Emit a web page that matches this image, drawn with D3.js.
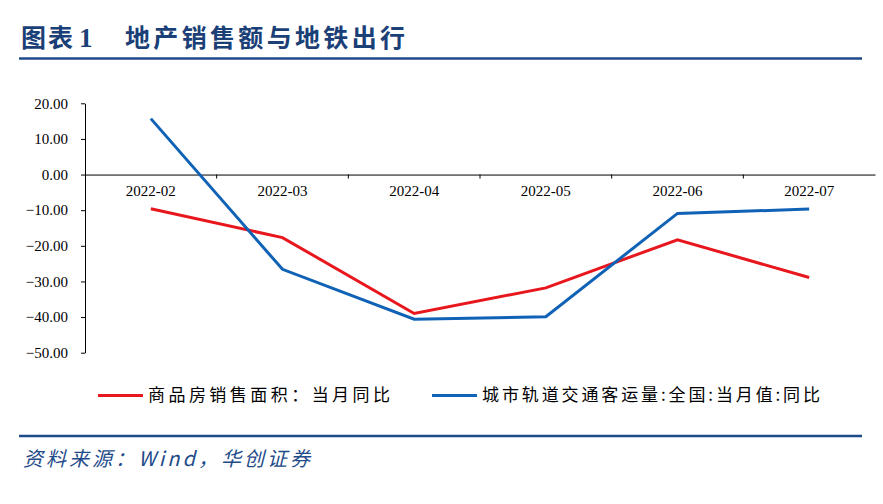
<!DOCTYPE html>
<html><head><meta charset="utf-8">
<script src="https://cdn.jsdelivr.net/npm/d3@7"></script>
<style>body{margin:0;background:#fff;}svg{display:block;}</style>
</head><body>
<svg id="c" width="883" height="504"></svg>
<script>
const categories = ["2022-02","2022-03","2022-04","2022-05","2022-06","2022-07"];
const salesArea = [-9.6, -17.7, -39.0, -31.8, -18.3, -28.9];
const metroRidership = [15.7, -26.6, -40.6, -39.9, -10.9, -9.7];
const yTicks = [20, 10, 0, -10, -20, -30, -40, -50];
const seriesNames = ["商品房销售面积：当月同比", "城市轨道交通客运量:全国:当月值:同比"];
const seriesColors = ["#E8161D", "#0F62B5"];
const titleLabel = ["图表", "1"];
const titleText = "地产销售额与地铁出行";
const sourceText = "资料来源：Wind，华创证券";

const svg = d3.select("#c");
const navy = "#1B3F77";
const serif = "'Liberation Serif','Times New Roman',serif";
const cjk = "'Noto Sans CJK SC',sans-serif";

// Title
const t1 = svg.append("text").attr("x", 21).attr("y", 47)
  .attr("font-family", cjk).attr("font-weight", "bold").attr("font-size", 25)
  .attr("fill", navy);
t1.append("tspan").attr("letter-spacing", 2).text(titleLabel[0]);
t1.append("tspan").attr("font-family", serif).attr("font-size", 27).attr("dx", 4).text(titleLabel[1]);
svg.append("text").attr("x", 125).attr("y", 47)
  .attr("font-family", cjk).attr("font-weight", "bold").attr("font-size", 25)
  .attr("fill", navy).attr("textLength", 280).attr("lengthAdjust", "spacing").text(titleText);
svg.append("line").attr("x1", 19).attr("x2", 862).attr("y1", 58.5).attr("y2", 58.5)
  .attr("stroke", "#1F4B8A").attr("stroke-width", 2.5);

const x = d3.scaleBand().domain(categories).range([85, 875]);
const y = d3.scaleLinear().domain([-50, 20]).range([352.7, 103.3]);

// Y axis
const yAxis = d3.axisLeft(y).tickValues(yTicks).tickFormat(d3.format(".2f")).tickSize(4).tickSizeOuter(0);
const gy = svg.append("g").attr("transform", "translate(85,0)").call(yAxis);
gy.select(".domain").attr("stroke", "#000");
gy.selectAll("text").attr("font-family", serif).attr("font-size", 15).attr("fill", "#000").attr("dx", -10);

// X axis at zero
const xAxis = d3.axisBottom(x).tickSize(0).tickSizeOuter(0);
const gx = svg.append("g").attr("transform", `translate(0,${y(0)})`).call(xAxis);
gx.select(".domain").attr("stroke", "#000");
gx.selectAll("text").attr("font-family", serif).attr("font-size", 15).attr("fill", "#000").attr("dy", "1.25em");
gx.selectAll(".bt").data(categories.slice(1)).enter().append("line")
  .attr("x1", d => x(d)).attr("x2", d => x(d)).attr("y1", 0).attr("y2", 4).attr("stroke", "#000");

// Lines
const line = d3.line().x((d, i) => x(categories[i]) + x.bandwidth() / 2).y(d => y(d));
[salesArea, metroRidership].forEach((s, k) => {
  svg.append("path").datum(s).attr("d", line).attr("fill", "none")
    .attr("stroke", seriesColors[k]).attr("stroke-width", 3).attr("stroke-linejoin", "miter");
});

// Legend
const legX = [98, 432];
const legW = [242, 338];
seriesNames.forEach((n, k) => {
  svg.append("line").attr("x1", legX[k]).attr("x2", legX[k] + 45).attr("y1", 395.5).attr("y2", 395.5)
    .attr("stroke", seriesColors[k]).attr("stroke-width", 3);
  svg.append("text").attr("x", legX[k] + 50).attr("y", 401)
    .attr("font-family", cjk).attr("font-size", 17).attr("fill", "#000")
    .attr("textLength", legW[k]).attr("lengthAdjust", "spacing").text(n);
});

// Footer
svg.append("line").attr("x1", 19).attr("x2", 862).attr("y1", 436).attr("y2", 436)
  .attr("stroke", "#1F4B8A").attr("stroke-width", 2.5);
svg.append("text").attr("x", 23).attr("y", 466)
  .attr("font-family", cjk).attr("font-size", 20).attr("font-style", "italic")
  .attr("fill", "#1F4B8A").attr("textLength", 287).attr("lengthAdjust", "spacing").text(sourceText);
</script>
</body></html>
